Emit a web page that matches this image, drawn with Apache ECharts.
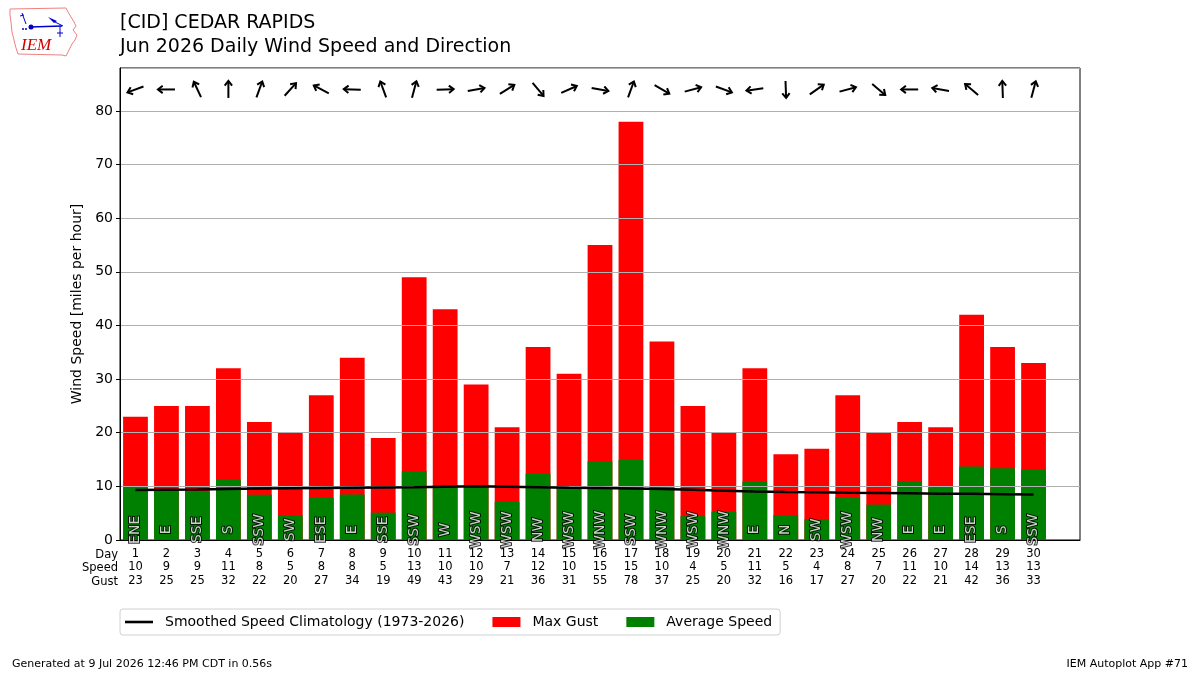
<!DOCTYPE html>
<html>
<head>
<meta charset="utf-8">
<script src="https://cdn.jsdelivr.net/npm/echarts@6/dist/echarts.min.js"></script>
<style>
html,body{margin:0;padding:0;background:#fff;}
#c{width:1200px;height:675px;}
</style>
</head>
<body>
<div id="c"></div>
<script>
// ---- data ----
const days = [1,2,3,4,5,6,7,8,9,10,11,12,13,14,15,16,17,18,19,20,21,22,23,24,25,26,27,28,29,30];
const avgSpeed = [9.83,9.45,9.0,11.3,8.45,4.66,7.9,8.46,5.1,12.87,10.26,9.95,7.15,12.4,9.95,14.7,14.9,9.95,4.45,5.3,10.9,4.66,3.9,8.0,6.6,11.0,9.8,13.7,13.4,13.06];
const avgSpeedLabels = [10,9,9,11,8,5,8,8,5,13,10,10,7,12,10,15,15,10,4,5,11,5,4,8,7,11,10,14,13,13];
const maxGust = [23,25,25,32,22,20,27,34,19,49,43,29,21,36,31,55,78,37,25,20,32,16,17,27,20,22,21,42,36,33];
const directions = ['ENE','E','SSE','S','SSW','SW','ESE','E','SSE','SSW','W','WSW','WSW','NW','WSW','WNW','SSW','WNW','WSW','WNW','E','N','SW','WSW','NW','E','E','ESE','S','SSW'];
const arrowToward = [250,270,335,0,20,42,298,272,340,15,88,80,58,140,66,100,20,120,75,110,262,178,55,75,130,270,280,310,358,15];
const climatology = [9.3,9.35,9.4,9.5,9.6,9.65,9.7,9.75,9.8,9.85,9.95,10.0,9.95,9.85,9.75,9.7,9.6,9.5,9.35,9.2,9.05,8.95,8.9,8.8,8.75,8.7,8.62,8.6,8.55,8.5];
const yTicksMax = 88;

const FONT = 'DejaVu Sans';
const cats = days.map(String).concat(['']); // extra empty slot so the axis spans 0.5..31.5

const chart = echarts.init(document.getElementById('c'), null, {renderer:'canvas'});

const ARROW_Y = 84;
const DIR_Y = 1.9;

const option = {
  backgroundColor:'#fff',
  animation:false,
  textStyle:{fontFamily:FONT},
  grid:{left:120,right:120,top:68,bottom:135,show:true,borderColor:'#000',borderWidth:1,backgroundColor:'transparent'},
  legend:{
    left:120, top:609,
    padding:[6,8,6,5],
    itemGap:28,
    itemWidth:28, itemHeight:10,
    borderColor:'#d0d0d0', borderWidth:1, borderRadius:3,
    textStyle:{fontFamily:FONT,fontSize:14,color:'#000',padding:[0,0,0,7]},
    data:[
      {name:'Smoothed Speed Climatology (1973-2026)', icon:'path://M0,0 L28,0 L28,2.6 L0,2.6 Z'},
      {name:'Max Gust', icon:'rect'},
      {name:'Average Speed', icon:'rect'}
    ]
  },
  xAxis:{
    type:'category',
    data:cats,
    boundaryGap:true,
    z:3,
    axisLine:{lineStyle:{color:'#000',width:1}},
    axisTick:{alignWithLabel:true,length:4,lineStyle:{color:'#000'},interval:function(i){return i<days.length;}},
    axisLabel:{
      interval:0, margin:7,
      fontFamily:FONT, fontSize:11.5, lineHeight:13.5, color:'#000',
      formatter:function(v,i){ if(i>=days.length) return ''; return days[i]+'\n'+avgSpeedLabels[i]+'\n'+maxGust[i]; }
    },
    splitLine:{show:false}
  },
  yAxis:{
    type:'value',
    min:0, max:yTicksMax, interval:10,
    z:3,
    name:'Wind Speed [miles per hour]',
    nameLocation:'middle', nameGap:33,
    nameTextStyle:{fontFamily:FONT,fontSize:14,color:'#000'},
    axisLine:{show:true,lineStyle:{color:'#000'}},
    axisTick:{show:true,length:4,lineStyle:{color:'#000'}},
    axisLabel:{fontFamily:FONT,fontSize:14,color:'#000',margin:7,showMaxLabel:false},
    splitLine:{show:true,lineStyle:{color:'#b0b0b0',width:1}}
  },
  series:[
    {
      name:'Max Gust', type:'bar', data:maxGust, barWidth:'80%', barGap:'-100%',
      itemStyle:{color:'#ff0000'}, z:2
    },
    {
      name:'Average Speed', type:'bar', data:avgSpeed, barWidth:'80%', barGap:'-100%',
      itemStyle:{color:'#008000'}, z:2
    },
    {
      name:'Smoothed Speed Climatology (1973-2026)', type:'line', data:climatology,
      symbol:'none', lineStyle:{color:'#000',width:2.5}, itemStyle:{color:'#000'}, z:5
    },
    {
      name:'dirlabels', type:'scatter', symbolSize:0, z:6,
      data:days.map(function(d,i){return [i, DIR_Y];}),
      label:{
        show:true, position:'inside', rotate:90,
        fontFamily:FONT, fontSize:14, color:'#fff',
        textBorderColor:'#000', textBorderWidth:2,
        formatter:function(p){return directions[p.dataIndex];}
      },
      silent:true
    },
    {
      name:'arrows', type:'custom', z:6, silent:true,
      data:days.map(function(d,i){return [i, ARROW_Y, arrowToward[i]];}),
      renderItem:function(params, api){
        const c = api.coord([api.value(0), api.value(1)]);
        const b = api.value(2)*Math.PI/180;
        const dx = Math.sin(b), dy = -Math.cos(b);
        const L = 8.5, H = 6, A = 38*Math.PI/180;
        const tail=[c[0]-dx*L, c[1]-dy*L], head=[c[0]+dx*L, c[1]+dy*L];
        const ang = Math.atan2(dy,dx);
        const p1=[head[0]-H*Math.cos(ang-A), head[1]-H*Math.sin(ang-A)];
        const p2=[head[0]-H*Math.cos(ang+A), head[1]-H*Math.sin(ang+A)];
        return {type:'group',children:[
          {type:'line',shape:{x1:tail[0],y1:tail[1],x2:head[0],y2:head[1]},style:{stroke:'#000',lineWidth:2}},
          {type:'polyline',shape:{points:[p1,head,p2]},style:{stroke:'#000',lineWidth:2,fill:null}}
        ]};
      }
    }
  ],
  graphic:[
    {type:'text',left:120,top:14,style:{text:'[CID] CEDAR RAPIDS',fontFamily:FONT,fontSize:19,fill:'#000'}},
    {type:'text',left:120,top:38,style:{text:'Jun 2026 Daily Wind Speed and Direction',fontFamily:FONT,fontSize:19,fill:'#000'}},
    {type:'text',x:118,y:555,style:{text:'Day',fontFamily:FONT,fontSize:11.5,fill:'#000',align:'right',verticalAlign:'middle'}},
    {type:'text',x:118,y:568.5,style:{text:'Speed',fontFamily:FONT,fontSize:11.5,fill:'#000',align:'right',verticalAlign:'middle'}},
    {type:'text',x:118,y:582,style:{text:'Gust',fontFamily:FONT,fontSize:11.5,fill:'#000',align:'right',verticalAlign:'middle'}},
    {type:'text',x:12,y:664,style:{text:'Generated at 9 Jul 2026 12:46 PM CDT in 0.56s',fontFamily:FONT,fontSize:11,fill:'#000',verticalAlign:'middle'}},
    {type:'text',x:1188,y:664,style:{text:'IEM Autoplot App #71',fontFamily:FONT,fontSize:11,fill:'#000',align:'right',verticalAlign:'middle'}},
    // logo
    {type:'polyline',shape:{points:[[10,9],[66,8],[68,12],[71,17],[74,22],[76,26],[73,30],[77,35],[75,40],[72,44],[70,48],[68,52],[66,56],[62,55],[18,54],[16,48],[14,40],[12,32],[11,22],[10,15],[10,9]]},style:{stroke:'#f08080',lineWidth:1,fill:'#fff'}},
    {type:'text',x:21,y:37,style:{text:'IEM',fontFamily:'Liberation Serif',fontStyle:'italic',fontSize:17,fill:'#d00000'}},
    {type:'line',shape:{x1:30,y1:27,x2:62,y2:26},style:{stroke:'#0000cc',lineWidth:1.5}},
    {type:'circle',shape:{cx:31,cy:27,r:2.5},style:{fill:'#0000cc'}},
    {type:'polygon',shape:{points:[[48,17],[57,21],[54,23]]},style:{fill:'#0000cc'}},
    {type:'line',shape:{x1:55,y1:22,x2:63,y2:26},style:{stroke:'#0000cc',lineWidth:1}},
    {type:'line',shape:{x1:60,y1:26,x2:60,y2:37},style:{stroke:'#0000cc',lineWidth:1}},
    {type:'line',shape:{x1:57,y1:33,x2:63,y2:33},style:{stroke:'#0000cc',lineWidth:1}},
    {type:'line',shape:{x1:22,y1:13,x2:26,y2:24},style:{stroke:'#0000cc',lineWidth:1}},
    {type:'line',shape:{x1:20,y1:16,x2:24,y2:15},style:{stroke:'#0000cc',lineWidth:1}},
    {type:'circle',shape:{cx:23,cy:29,r:1},style:{fill:'#0000cc'}},
    {type:'circle',shape:{cx:26,cy:29,r:1},style:{fill:'#0000cc'}}
  ]
};
chart.setOption(option);
</script>
</body>
</html>
